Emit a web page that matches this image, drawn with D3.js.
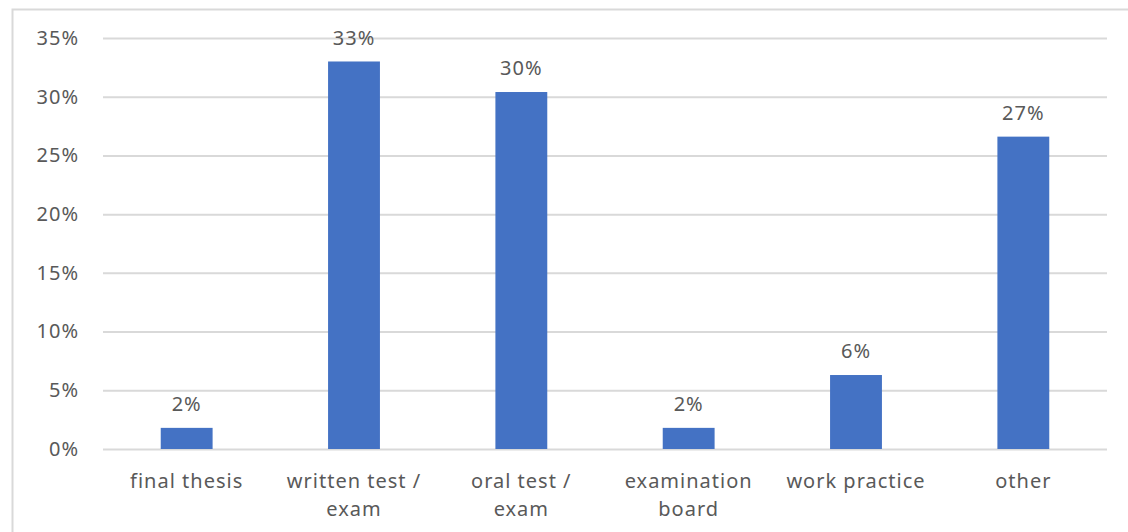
<!DOCTYPE html>
<html lang="en">
<head>
<meta charset="UTF-8">
<title>Assessment methods</title>
<style>
  body { margin: 0; background: #fff; }
  svg text { font-family: "Noto Sans", "Open Sans", sans-serif; fill: #595959; letter-spacing: 1px; }
</style>
</head>
<body>
<div id="chart"></div>
<script src="https://d3js.org/d3.v7.min.js"></script>
<script>
const categories = [["final thesis"], ["written test /", "exam"], ["oral test /", "exam"], ["examination", "board"], ["work practice"], ["other"]];
const values = [0.018, 0.33, 0.304, 0.018, 0.063, 0.266];
const valueLabels = ["2%", "33%", "30%", "2%", "6%", "27%"];
const yTicks = [0, 0.05, 0.10, 0.15, 0.20, 0.25, 0.30, 0.35];

const width = 1128, height = 532;
const margin = { top: 38, right: 21, bottom: 83, left: 103 };
const innerW = width - margin.left - margin.right;
const innerH = height - margin.top - margin.bottom;
const fontSize = "20px";

const svg = d3.select("#chart").append("svg")
    .attr("width", width)
    .attr("height", height);

// outer frame
svg.append("rect")
    .attr("x", 12.5).attr("y", 9.5)
    .attr("width", width).attr("height", height)
    .attr("fill", "none")
    .attr("stroke", "#d9d9d9")
    .attr("stroke-width", 2);

const g = svg.append("g").attr("transform", `translate(${margin.left},${margin.top})`);

const x = d3.scaleBand()
    .domain(d3.range(categories.length))
    .range([0, innerW])
    .paddingInner(0.69)
    .paddingOuter(0.345);

const y = d3.scaleLinear().domain([0, 0.35]).range([innerH, 0]);

// gridlines + y labels
const yAxis = d3.axisLeft(y).tickValues(yTicks).tickSize(-innerW).tickPadding(24)
    .tickFormat(d3.format(".0%"));
const ya = g.append("g").call(yAxis);
ya.select(".domain").remove();
ya.selectAll("line").attr("stroke", "#d9d9d9").attr("stroke-width", 2);
ya.selectAll("text").style("font-size", fontSize).attr("fill", "#595959")
    .style("font-family", null);

// bars
g.selectAll(".bar")
    .data(values)
    .enter()
    .append("rect")
    .attr("class", "bar")
    .attr("x", (d, i) => x(i))
    .attr("y", d => y(d))
    .attr("width", x.bandwidth())
    .attr("height", d => innerH - y(d))
    .attr("fill", "#4472c4");

// value labels
g.selectAll(".label")
    .data(values)
    .enter()
    .append("text")
    .attr("class", "label")
    .attr("x", (d, i) => x(i) + x.bandwidth() / 2)
    .attr("y", d => y(d) - 17)
    .attr("text-anchor", "middle")
    .style("font-size", fontSize)
    .text((d, i) => valueLabels[i]);

// category labels
const cat = g.selectAll(".cat")
    .data(categories)
    .enter()
    .append("text")
    .attr("class", "cat")
    .attr("text-anchor", "middle")
    .attr("x", (d, i) => x(i) + x.bandwidth() / 2)
    .attr("y", innerH + 39)
    .style("font-size", fontSize);

cat.selectAll("tspan")
    .data(d => d)
    .enter()
    .append("tspan")
    .attr("x", function () { return d3.select(this.parentNode).attr("x"); })
    .attr("dy", (d, i) => i === 0 ? 0 : 28)
    .text(d => d);
</script>
</body>
</html>
